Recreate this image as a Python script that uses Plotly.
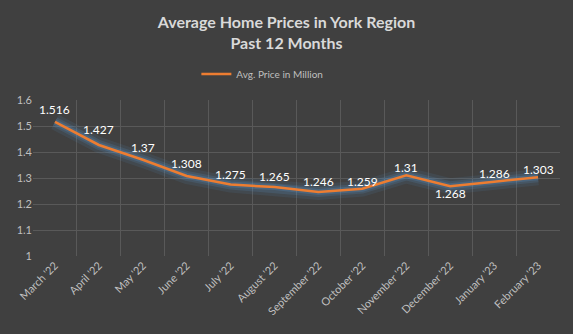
import plotly.graph_objects as go

months = ["March '22", "April '22", "May '22", "June '22", "July '22", "August '22",
          "September '22", "October '22", "November '22", "December '22",
          "January '23", "February '23"]
prices = [1.516, 1.427, 1.37, 1.308, 1.275, 1.265, 1.246, 1.259, 1.31, 1.268, 1.286, 1.303]
y_ticks = [1, 1.1, 1.2, 1.3, 1.4, 1.5, 1.6]

# pixel offset of each value label from its point (negative = below)
label_shift = [12, 15, 12, 12, 10, 11, 11, 7, 8, -7, 8, 8]

BG = "#404040"
FONT = "Lato, Carlito, Calibri, sans-serif"

fig = go.Figure()

# soft blue glow underneath the price line
for w, a in [(16, 0.10), (10, 0.16), (6, 0.22)]:
    fig.add_trace(go.Scatter(
        x=months, y=prices, mode="lines",
        line=dict(color=f"rgba(91,155,213,{a})", width=w),
        hoverinfo="skip", showlegend=False,
    ))

fig.add_trace(go.Scatter(
    x=months, y=prices, mode="lines",
    name="Avg. Price in Million",
    line=dict(color="#ed7d31", width=2.5),
))

# value labels for each point
for m, v, s in zip(months, prices, label_shift):
    fig.add_annotation(
        x=m, y=v, text=f"{v:g}", showarrow=False, yshift=s,
        font=dict(color="#ffffff", size=12, family=FONT),
    )

fig.update_layout(
    width=573, height=334,
    paper_bgcolor=BG, plot_bgcolor=BG,
    margin=dict(l=33, r=13, t=100, b=78),
    title=dict(
        text="<b>Average Home Prices in York Region<br>Past 12 Months</b>",
        x=0.5, xanchor="center", y=0.915, yanchor="middle",
        font=dict(family=FONT, size=16, color="#d9d9d9"),
    ),
    legend=dict(
        orientation="h", x=0.31, xanchor="left", y=1.167, yanchor="middle",
        font=dict(family=FONT, size=10, color="#bfbfbf"),
        bgcolor="rgba(0,0,0,0)", itemwidth=30,
    ),
    font=dict(family=FONT, color="#bfbfbf"),
    xaxis=dict(
        type="category", tickson="boundaries",
        showgrid=True, gridcolor="#595959", gridwidth=1,
        tickangle=-45, tickfont=dict(size=11, color="#bfbfbf"),
        showline=False, zeroline=False, ticks="",
        range=[-0.5, 11.5],
    ),
    yaxis=dict(
        range=[1, 1.6], tickvals=y_ticks, ticktext=[f"{v:g}" for v in y_ticks],
        showgrid=True, gridcolor="#595959", gridwidth=1,
        zeroline=False, showline=False,
        tickfont=dict(size=11, color="#bfbfbf"),
    ),
)

fig.write_html("out.html")
